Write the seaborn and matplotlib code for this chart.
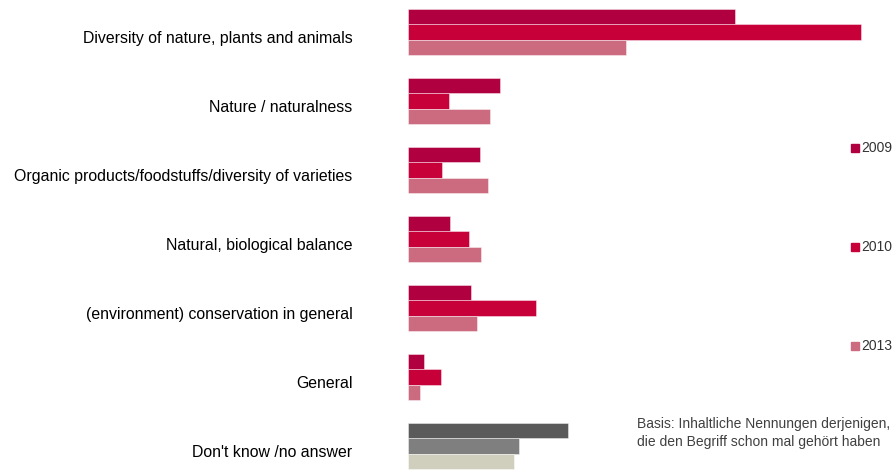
# Wahrnehmung Biodiversität - inhaltliche Nennungen 2009 / 2010 / 2013
import pandas as pd
import matplotlib.pyplot as plt
import matplotlib.transforms as mtransforms
from matplotlib.patches import Rectangle
import seaborn as sns

# Données (valeurs relatives)
categories = [
    "Diversity of nature, plants and animals",
    "Nature / naturalness",
    "Organic products/foodstuffs/diversity of varieties",
    "Natural, biological balance",
    "(environment) conservation in general",
    "General",
    "Don't know /no answer",
]
years = ["2009", "2010", "2013"]
values_2009 = [32.7, 9.2, 7.2, 4.2, 6.3, 1.6, 16.0]
values_2010 = [45.3, 4.1, 3.4, 6.1, 12.8, 3.3, 11.1]
values_2013 = [21.8, 8.2, 8.0, 7.3, 6.9, 1.2, 10.6]

red_colors = ["#b0003f", "#c8003a", "#cc6a80"]
grey_colors = ["#5a5a5a", "#7f7f7f", "#d0cfbe"]

df = pd.DataFrame({
    "category": categories * 3,
    "year": [y for y in years for _ in categories],
    "value": values_2009 + values_2010 + values_2013,
})

sns.set_style("white")
plt.rcParams["font.family"] = ["Liberation Sans", "DejaVu Sans"]

fig = plt.figure(figsize=(8.92, 4.70), dpi=100)
ax = fig.add_axes([408 / 892, 0, (880 - 408) / 892, 1])

sns.barplot(data=df, y="category", x="value", hue="year", order=categories,
            hue_order=years, palette=red_colors, width=0.66, gap=0,
            orient="h", legend=False, ax=ax)

# dernière catégorie en gris
for i, cont in enumerate(ax.containers):
    for j, bar in enumerate(cont):
        color = grey_colors[i] if j == len(categories) - 1 else red_colors[i]
        bar.set_facecolor(color)
        bar.set_edgecolor((1, 1, 1, 0.5))
        bar.set_linewidth(0.6)

ax.set_xlim(0, 47.2)
ax.set_ylim(6 + 24 / 69, -32 / 69)
ax.set_xlabel("")
ax.set_ylabel("")
ax.set_xticks([])
ax.tick_params(axis="y", length=0, pad=40, labelsize=11.4, labelcolor="#000000")
# étiquettes un peu plus bas que le centre du groupe
shift = mtransforms.ScaledTranslation(0, -5 / 100, fig.dpi_scale_trans)
for lab in ax.get_yticklabels():
    lab.set_transform(lab.get_transform() + shift)
for s in ax.spines.values():
    s.set_visible(False)

# légende manuelle
for k, (y, c) in enumerate(zip([148, 247, 346], red_colors)):
    fig.patches.append(Rectangle((851 / 892, 1 - (y + 4) / 470), 8 / 892, 8 / 470,
                                 transform=fig.transFigure, color=c, figure=fig))
    fig.text(861 / 892, 1 - y / 470, years[k], fontsize=10, color="#333333",
             va="center", ha="left")

fig.text(637 / 892, 1 - 424 / 470, "Basis: Inhaltliche Nennungen derjenigen,",
         fontsize=10, color="#404040", va="center", ha="left")
fig.text(637 / 892, 1 - 442 / 470, "die den Begriff schon mal gehört haben",
         fontsize=10, color="#404040", va="center", ha="left")

fig.savefig("out.png", dpi=100)
